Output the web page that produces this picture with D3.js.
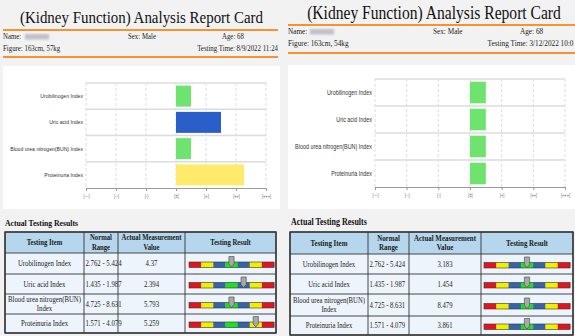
<!DOCTYPE html>
<html><head><meta charset="utf-8">
<script src="https://cdn.jsdelivr.net/npm/d3@7"></script>
<style>html,body{margin:0;padding:0;background:#f2f2f2;overflow:hidden}svg{display:block}</style>
</head><body>
<svg id="c" width="575" height="336"></svg>
<script>
// ---------- data ----------
const items = ["Urobilinogen Index","Uric acid Index","Blood urea nitrogen(BUN) Index","Proteinuria Index"];
const tableItems = [["Urobilinogen Index"],["Uric acid Index"],["Blood urea nitrogen(BUN)","Index"],["Proteinuria Index"]];
const tickLabels = ["[---]","[--]","[-]","[±]","[+]","[++]","[+++]"];
const tickValues = [-3,-2,-1,0,1,2,3];
const normalRanges = ["2.762 - 5.424","1.435 - 1.987","4.725 - 8.631","1.571 - 4.079"];
const valuesA = ["4.37","2.394","5.793","5.259"];
const valuesB = ["3.183","1.454","8.479","3.861"];
const levelsA = [0.5,1.5,0.5,2.27];
const levelsB = [0.5,0.5,0.5,0.5];
const gaugeA = [3.5,4.5,3.5,5.5];
const gaugeB = [3.5,3.5,3.5,3.5];
const cardA = {figure:"Figure: 163cm, 57kg", time:"Testing Time: 8/9/2022 11:24"};
const cardB = {figure:"Figure: 163cm, 54kg", time:"Testing Time: 3/12/2022 10:0"};
const segColors = ["#e5141c","#f2ee00","#3565a8","#1ee01e","#3565a8","#f2ee00","#e5141c"];
const headers = [["Testing Item"],["Normal","Range"],["Actual Measurement","Value"],["Testing Result"]];
const titleText = "(Kidney Function) Analysis Report Card";

const K = 0.86; // horizontal squeeze of glyphs seen in the reference
const svg = d3.select("#c");
svg.append("rect").attr("width",575).attr("height",336).attr("fill","#f2f2f2");
const defs = svg.append("defs");
defs.append("filter").attr("id","blur").append("feGaussianBlur").attr("stdDeviation",1.2);

const serif = "'Liberation Serif','Times New Roman',serif";
const sans = "'Liberation Sans',Arial,sans-serif";

function fit(str, family, weight, target){
  const tmp = svg.append("text").attr("font-family",family).attr("font-weight",weight||"normal")
    .attr("font-size",10).text(str);
  const w = tmp.node().getComputedTextLength(); tmp.remove();
  return 10*target/w/K;
}

function barColor(v){ return v<1 ? "#6ee36e" : (v<2 ? "#2a5fc9" : "#ffea6b"); }

function drawCard(L){
  const g = svg.append("g");
  const fTitle = fit(titleText, serif, "normal", L.titleW);
  const fInfo = fit(L.info.time, serif, "normal", L.timeW);
  const fLab = fit(items[2], sans, "normal", L.labW);
  const fTick = fit("[+++]", sans, "normal", 9);
  const fBody = fit("Blood urea nitrogen(BUN)", serif, "normal", L.bodyW);
  const fHead = fit("Actual Measurement", serif, "bold", L.headW);
  const fCap = fit("Actual Testing Results", serif, "bold", L.capW);
  g.append("text").attr("x",L.titleX).attr("y",L.titleY).attr("text-anchor","middle")
    .attr("font-family",serif).attr("font-size",fTitle).attr("fill","#111").text(titleText);
  [L.line1,L.line2].forEach(y=>g.append("line").attr("x1",L.hx0).attr("x2",L.hx1).attr("y1",y).attr("y2",y)
    .attr("stroke","#f7922e").attr("stroke-width",2.2));
  const t = (x,y,s,anchor)=>g.append("text").attr("x",x).attr("y",y).attr("font-family",serif)
    .attr("font-size",fInfo).attr("fill","#222").attr("text-anchor",anchor||"start").text(s);
  t(L.hx0,L.line1+9.5,"Name:");
  g.append("rect").attr("x",L.hx0+22).attr("y",L.line1+4).attr("width",24).attr("height",5.5)
    .attr("fill","#c0c0c8").attr("filter","url(#blur)");
  t(L.sexX,L.line1+9.5,"Sex: Male");
  t(L.ageX,L.line1+9.5,"Age: 68");
  t(L.hx0,L.line1+21.5,L.info.figure);
  t(L.timeX,L.line1+21.5,L.info.time,"end");

  g.append("rect").attr("x",L.px0).attr("y",L.py0).attr("width",L.px1-L.px0).attr("height",L.py1-L.py0).attr("fill","#fff");
  const x = d3.scaleLinear().domain([-3,3]).range([L.cx0,L.cx1]);
  const y = d3.scaleBand().domain(items).range([L.cy0,L.cy1]).paddingInner(0.2).paddingOuter(0.1);
  const yb = d3.scaleBand().domain(items).range([L.cy0,L.cy1]);
  g.append("g").selectAll("line").data(tickValues).join("line")
    .attr("x1",d=>x(d)).attr("x2",d=>x(d)).attr("y1",L.cy0).attr("y2",L.cy1)
    .attr("stroke","#d4d4d4").attr("stroke-dasharray","3,2").attr("stroke-width",0.8);
  g.append("g").selectAll("line").data(items).join("line")
    .attr("x1",L.cx0).attr("x2",L.cx1).attr("y1",d=>yb(d)).attr("y2",d=>yb(d))
    .attr("stroke","#dcdcdc").attr("stroke-width",1.4);
  g.append("g").selectAll("rect").data(items).join("rect")
    .attr("x",x(0)).attr("y",d=>y(d)).attr("height",y.bandwidth())
    .attr("width",(d,i)=>x(L.levels[i])-x(0)).attr("fill",(d,i)=>barColor(L.levels[i]));
  g.append("g").selectAll("text").data(items).join("text")
    .attr("x",L.cx0-3).attr("y",d=>yb(d)+yb.bandwidth()/2+fLab*0.35).attr("text-anchor","end")
    .attr("font-family",sans).attr("font-size",fLab).attr("fill","#333").text(d=>d);
  const ax = d3.axisBottom(x).tickValues(tickValues).tickSize(3).tickFormat((d,i)=>tickLabels[i]);
  const axg = g.append("g").attr("transform",`translate(0,${L.cy1})`).call(ax);
  axg.select(".domain").attr("stroke","#9a9a9a");
  axg.selectAll(".tick line").attr("stroke","#9a9a9a");
  axg.selectAll(".tick text").attr("font-family",sans).attr("font-size",fTick).attr("fill","#666").attr("dy","0.85em");

  g.append("text").attr("x",L.tx).attr("y",L.ty).attr("font-family",serif).attr("font-weight","bold")
    .attr("font-size",fCap).attr("fill","#111").text("Actual Testing Results");
  const C = L.cols, R = L.rows;
  g.append("rect").attr("x",C[0]).attr("y",R[0]).attr("width",C[4]-C[0]).attr("height",R[1]-R[0]).attr("fill","#b5d6ec");
  g.append("rect").attr("x",C[0]).attr("y",R[1]).attr("width",C[4]-C[0]).attr("height",R[5]-R[1]).attr("fill","#eef4fb");
  headers.forEach((h,i)=>{
    const cx=(C[i]+C[i+1])/2, cy=(R[0]+R[1])/2;
    h.forEach((s,k)=>g.append("text").attr("x",cx).attr("y",cy+fHead*0.33+(k-(h.length-1)/2)*fHead*1.17)
      .attr("text-anchor","middle").attr("font-family",serif).attr("font-weight","bold")
      .attr("font-size",fHead).attr("fill","#1a1a1a").text(s));
  });
  const rowsG = g.append("g");
  tableItems.forEach((lines,r)=>{
    const cy=(R[r+1]+R[r+2])/2, base = cy+fBody*0.33;
    lines.forEach((s,k)=>rowsG.append("text").attr("x",(C[0]+C[1])/2).attr("y",base+(k-(lines.length-1)/2)*fBody*1.17)
      .attr("text-anchor","middle").attr("font-family",serif).attr("font-size",fBody).attr("fill","#222").text(s));
    rowsG.append("text").attr("x",C[1]+1.5).attr("y",base).attr("font-family",serif).attr("font-size",fBody).attr("fill","#222").text(normalRanges[r]);
    rowsG.append("text").attr("x",(C[2]+C[3])/2).attr("y",base).attr("text-anchor","middle").attr("font-family",serif).attr("font-size",fBody).attr("fill","#222").text(L.values[r]);
    const gx = d3.scaleLinear().domain([0,7]).range([C[3]+L.gin0, C[4]-L.gin1]);
    const gy = cy-1.5;
    rowsG.append("g").selectAll("rect").data(segColors).join("rect")
      .attr("x",(d,i)=>gx(i)).attr("y",gy).attr("width",gx(1)-gx(0)+0.3).attr("height",5.5).attr("fill",d=>d);
    rowsG.append("rect").attr("x",gx(0)).attr("y",gy).attr("width",gx(7)-gx(0)).attr("height",5.5)
      .attr("fill","none").attr("stroke","#333").attr("stroke-width",0.6);
    const mx = gx(L.gauge[r]), my = gy-5.5;
    rowsG.append("path").attr("d",`M${mx-2.6},${my} h5.2 v7.5 l-2.6,3 l-2.6,-3 Z`)
      .attr("fill","#a8a8a8").attr("stroke","#444").attr("stroke-width",0.6);
  });
  const bg = g.append("g").attr("stroke","#333").attr("stroke-width",0.9);
  C.forEach(cx=>bg.append("line").attr("x1",cx).attr("x2",cx).attr("y1",R[0]).attr("y2",R[5]));
  R.forEach(ry=>bg.append("line").attr("x1",C[0]).attr("x2",C[4]).attr("y1",ry).attr("y2",ry));
  bg.append("rect").attr("x",C[0]).attr("y",R[0]).attr("width",C[4]-C[0]).attr("height",R[5]-R[0]).attr("fill","none").attr("stroke-width",1.4);
}

drawCard({titleX:141.5,titleY:23,titleW:243,line1:30,line2:57,hx0:3,hx1:278,sexX:128,ageX:222,timeX:278,timeW:81,
  info:cardA,px0:3,px1:280,py0:66,py1:209,cx0:86,cx1:266,cy0:83,cy1:188,levels:levelsA,labW:73,
  tx:5,ty:226,capW:73,headW:60,bodyW:73,cols:[5,84,118,185,276],rows:[232,253,274,294,314,333],values:valuesA,gauge:gaugeA,gin0:4,gin1:2});
drawCard({titleX:434,titleY:19,titleW:254,line1:25,line2:53,hx0:288,hx1:575,sexX:433,ageX:520,timeX:573.5,timeW:86,
  info:cardB,px0:288,px1:575,py0:65,py1:209,cx0:375,cx1:565,cy0:79,cy1:187,levels:levelsB,labW:77,
  tx:291,ty:225,capW:76,headW:62,bodyW:72,cols:[290,368,409,481,573],rows:[232,254,274,294,316,335],values:valuesB,gauge:gaugeB,gin0:3,gin1:3});

// squeeze every text horizontally around its anchor, as in the reference
svg.selectAll("text").each(function(){
  const ax = +(this.getAttribute("x") || 0);
  d3.select(this).attr("transform",`translate(${ax},0) scale(${K},1) translate(${-ax},0)`);
});
</script>
</body></html>
